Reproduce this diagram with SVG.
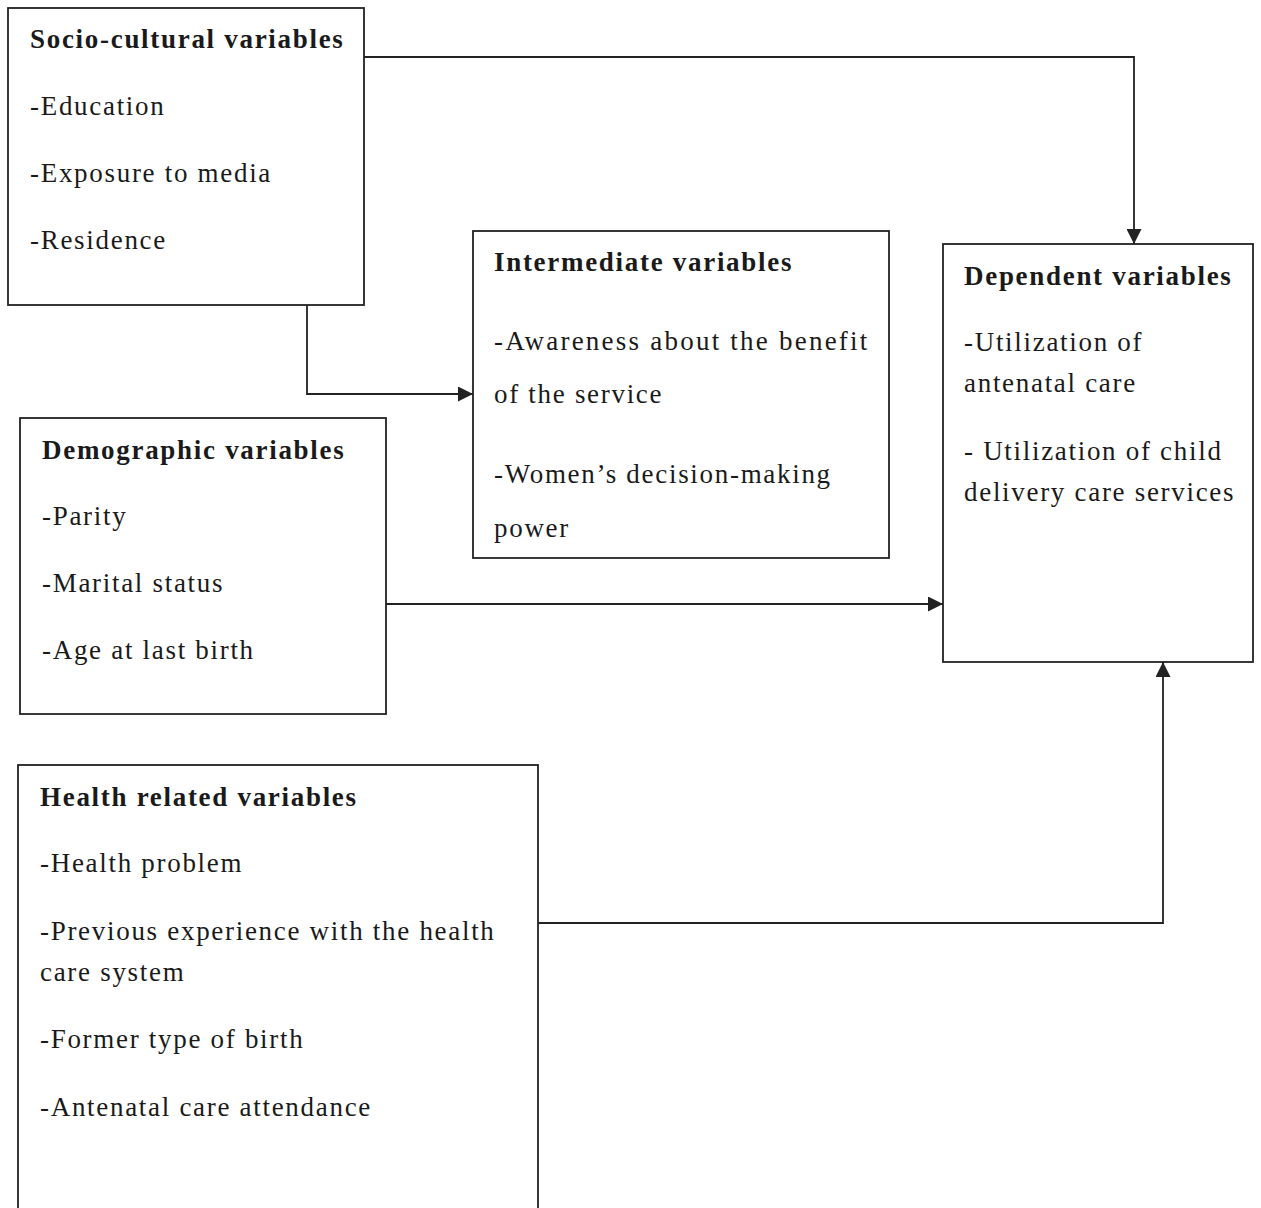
<svg xmlns="http://www.w3.org/2000/svg" width="1261" height="1208" viewBox="0 0 1261 1208">
<style>
.box{fill:#fff;stroke:#222;stroke-width:1.8}
.t{font-family:"Liberation Serif","Times New Roman",serif;font-size:27px;fill:#1a1a1a;letter-spacing:1.7px}
.b{font-weight:bold}
.c{fill:none;stroke:#222;stroke-width:1.8}
</style>
<defs>
<marker id="ah" viewBox="0 0 10 10" refX="10" refY="5" markerWidth="15" markerHeight="15" markerUnits="userSpaceOnUse" orient="auto">
<path d="M0,0 L10,5 L0,10 Z" fill="#222"/>
</marker>
</defs>
<rect width="1261" height="1208" fill="#fff"/>
<g id="socio">
<rect class="box" x="8" y="8" width="356" height="297"/>
<text class="t b" x="30" y="48">Socio-cultural variables</text>
<text class="t" x="30" y="115">-Education</text>
<text class="t" x="30" y="182">-Exposure to media</text>
<text class="t" x="30" y="249">-Residence</text>
</g>
<g id="intermediate">
<rect class="box" x="473" y="231" width="416" height="327"/>
<text class="t b" x="494" y="271">Intermediate variables</text>
<text class="t" x="494" y="350" textLength="375" lengthAdjust="spacing">-Awareness about the benefit</text>
<text class="t" x="494" y="403">of the service</text>
<text class="t" x="494" y="483">-Women’s decision-making</text>
<text class="t" x="494" y="537">power</text>
</g>
<g id="dependent">
<rect class="box" x="943" y="244" width="310" height="418"/>
<text class="t b" x="964" y="285">Dependent variables</text>
<text class="t" x="964" y="351">-Utilization of</text>
<text class="t" x="964" y="392">antenatal care</text>
<text class="t" x="964" y="460">- Utilization of child</text>
<text class="t" x="964" y="501">delivery care services</text>
</g>
<g id="demographic">
<rect class="box" x="20" y="418" width="366" height="296"/>
<text class="t b" x="42" y="459">Demographic variables</text>
<text class="t" x="42" y="525">-Parity</text>
<text class="t" x="42" y="592">-Marital status</text>
<text class="t" x="42" y="659">-Age at last birth</text>
</g>
<g id="health">
<rect class="box" x="18" y="765" width="520" height="460"/>
<text class="t b" x="40" y="806">Health related variables</text>
<text class="t" x="40" y="872">-Health problem</text>
<text class="t" x="40" y="940">-Previous experience with the health</text>
<text class="t" x="40" y="981">care system</text>
<text class="t" x="40" y="1048">-Former type of birth</text>
<text class="t" x="40" y="1116">-Antenatal care attendance</text>
</g>
<g id="connectors">
<path class="c" d="M364,57 H1134 V244" marker-end="url(#ah)"/>
<path class="c" d="M307,305 V394 H473" marker-end="url(#ah)"/>
<path class="c" d="M386,604 H943" marker-end="url(#ah)"/>
<path class="c" d="M538,923 H1163 V662" marker-end="url(#ah)"/>
</g>
</svg>
